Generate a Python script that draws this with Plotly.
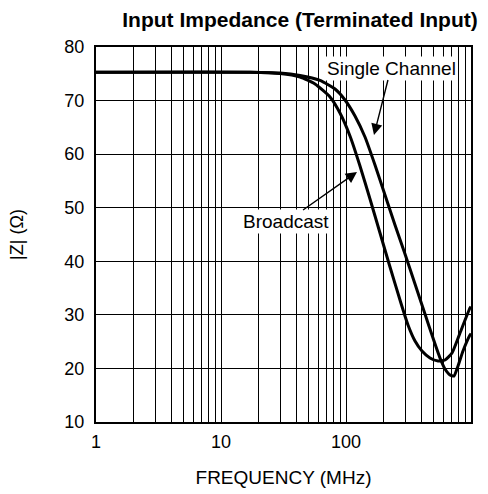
import plotly.graph_objects as go

# Data
single_freq = [1, 17.1, 29.6, 42.9, 61.9, 81.7, 98.2, 118.0, 141.9, 170.6, 205.1, 246.6, 296.5,
               356.5, 428.5, 496.6, 564.9, 619.4, 679.2, 731.1, 787.0, 863.0, 981.7, 1000]
single_z = [75.3, 75.3, 75.15, 74.68, 73.75, 72.16, 70.11, 67.12, 63.2, 57.97, 52.37, 46.77, 41.36,
            35.76, 30.16, 25.68, 21.95, 19.89, 18.77, 18.58, 20.45, 23.25, 26.24, 26.5]

broad_freq = [1, 17.1, 29.6, 42.9, 56.5, 74.5, 89.5, 107.6, 129.4, 155.6, 187.1, 224.9, 270.4,
              313.3, 356.5, 405.5, 469.9, 544.5, 619.4, 704.7, 816.6, 981.7, 1000]
broad_z = [75.3, 75.3, 75.05, 74.4, 73.1, 70.67, 67.68, 63.39, 57.79, 51.63, 45.28, 38.93, 32.77,
           28.11, 25.12, 23.25, 21.95, 21.38, 21.57, 22.88, 26.61, 31.28, 31.5]

x_ticks = [1, 10, 100, 1000]
x_tick_labels = ["1", "10", "100", "1000"]
x_minor = [m * d for d in (1, 10, 100) for m in range(2, 10)]
y_ticks = [10, 20, 30, 40, 50, 60, 70, 80]

FONT = "Liberation Sans, Arial, sans-serif"

fig = go.Figure()
fig.add_trace(go.Scatter(x=single_freq, y=single_z, mode="lines", name="Single Channel",
                         line=dict(color="black", width=3, shape="spline", smoothing=0.5)))
fig.add_trace(go.Scatter(x=broad_freq, y=broad_z, mode="lines", name="Broadcast",
                         line=dict(color="black", width=3, shape="spline", smoothing=0.5)))

fig.add_annotation(x=2.224, y=63.57, xref="x", yref="y", text="Single Channel",
                   showarrow=True, ax=17, ay=-67, arrowhead=2, arrowsize=1.6, arrowwidth=1.4,
                   arrowcolor="black", bgcolor="white", borderpad=1,
                   font=dict(family=FONT, size=19, color="black"))
fig.add_annotation(x=2.088, y=56.67, xref="x", yref="y", text="Broadcast",
                   showarrow=True, ax=-71, ay=50, arrowhead=2, arrowsize=1.6, arrowwidth=1.4,
                   arrowcolor="black", bgcolor="white", borderpad=1,
                   font=dict(family=FONT, size=19, color="black"))

fig.update_layout(
    width=488, height=494,
    margin=dict(l=96, r=17, t=47, b=72, autoexpand=False),
    paper_bgcolor="white", plot_bgcolor="white",
    showlegend=False,
    font=dict(family=FONT, size=18, color="black"),
    title=dict(text="<b>Input Impedance (Terminated Input)</b>", x=0.544, xref="paper",
               xanchor="center", y=1 - 20 / 494, yref="container", yanchor="middle",
               font=dict(family=FONT, size=21, color="black")),
)
fig.update_xaxes(type="log", range=[0, 3], tickvals=x_ticks, ticktext=x_tick_labels,
                 showgrid=True, gridcolor="black", gridwidth=1,
                 minor=dict(tickvals=x_minor, showgrid=True, gridcolor="black", gridwidth=1),
                 showline=True, linecolor="black", linewidth=2, mirror=True,
                 ticks="", ticklabelstandoff=2, zeroline=False, automargin=False,
                 tickfont=dict(family=FONT, size=18),
                 title=dict(text="FREQUENCY (MHz)", font=dict(family=FONT, size=19), standoff=20))
fig.update_yaxes(range=[10, 80], tickvals=y_ticks,
                 showgrid=True, gridcolor="black", gridwidth=1,
                 showline=True, linecolor="black", linewidth=2, mirror=True,
                 ticks="", ticklabelstandoff=6, zeroline=False, automargin=False,
                 tickfont=dict(family=FONT, size=18),
                 title=dict(text="|Z| (Ω)", font=dict(family=FONT, size=18), standoff=36))

fig.write_html("out.html", config={"displayModeBar": False},
               post_script="document.body.style.margin='0';")
